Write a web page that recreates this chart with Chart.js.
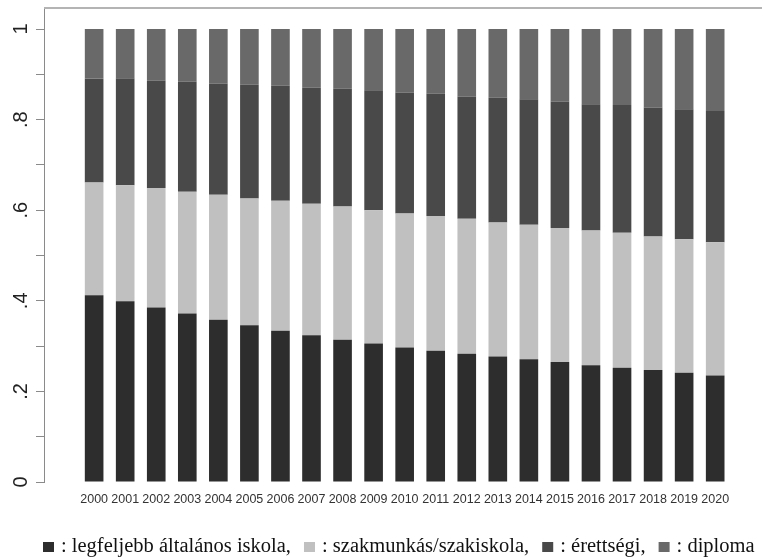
<!DOCTYPE html>
<html>
<head>
<meta charset="utf-8">
<script src="https://cdn.jsdelivr.net/npm/chart.js@4.4.1/dist/chart.umd.min.js"></script>
<style>
  html, body { margin: 0; padding: 0; background: #ffffff; }
  #c { display: block; }
</style>
</head>
<body>
<canvas id="c" width="762" height="557"></canvas>
<script>
// ---- data ----
const years = [2000,2001,2002,2003,2004,2005,2006,2007,2008,2009,2010,2011,2012,2013,2014,2015,2016,2017,2018,2019,2020];
const seriesNames = ['legfeljebb általános iskola', 'szakmunkás/szakiskola', 'érettségi', 'diploma'];
const primary    = [0.412,0.399,0.385,0.372,0.358,0.346,0.334,0.324,0.314,0.306,0.297,0.290,0.283,0.277,0.271,0.265,0.258,0.252,0.247,0.241,0.235];
const vocational = [0.249,0.256,0.264,0.269,0.276,0.280,0.287,0.290,0.294,0.294,0.296,0.297,0.298,0.296,0.297,0.296,0.297,0.298,0.295,0.295,0.294];
const secondary  = [0.230,0.235,0.237,0.243,0.246,0.251,0.254,0.257,0.260,0.265,0.267,0.270,0.270,0.275,0.277,0.279,0.279,0.282,0.285,0.287,0.290];
const tertiary   = [0.109,0.110,0.114,0.116,0.120,0.123,0.125,0.129,0.132,0.135,0.140,0.143,0.149,0.152,0.155,0.160,0.166,0.168,0.173,0.177,0.181];
const yTickValues = [0,0.1,0.2,0.3,0.4,0.5,0.6,0.7,0.8,0.9,1];
const yLabelValues = [0,0.2,0.4,0.6,0.8,1];
const yLabelTexts  = ['0','.2','.4','.6','.8','1'];

const seriesValues = [primary, vocational, secondary, tertiary];
const seriesColors = ['#2d2d2d', '#c0c0c0', '#494949', '#696969'];

const datasets = seriesValues.map((vals, i) => ({
  label: seriesNames[i],
  data: years.map((yr, j) => ({ x: yr, y: vals[j] })),
  backgroundColor: seriesColors[i],
  borderWidth: 0,
  categoryPercentage: 1.0,
  barPercentage: 0.6
}));

const stataDecor = {
  id: 'stataDecor',
  afterDraw(chart) {
    const ctx = chart.ctx;
    const area = chart.chartArea;
    const ys = chart.scales.y;
    ctx.save();
    // top frame line
    ctx.strokeStyle = '#b4b4b4';
    ctx.lineWidth = 2;
    ctx.beginPath();
    ctx.moveTo(area.left, area.top);
    ctx.lineTo(chart.width, area.top);
    ctx.stroke();
    // rotated y labels
    ctx.fillStyle = '#222';
    ctx.font = '20px "Liberation Sans"';
    ctx.textAlign = 'center';
    ctx.textBaseline = 'alphabetic';
    yLabelValues.forEach((v, i) => {
      const py = ys.getPixelForValue(v);
      ctx.save();
      ctx.translate(27, py);
      ctx.rotate(-Math.PI / 2);
      ctx.fillText(yLabelTexts[i], 0, 0);
      ctx.restore();
    });
    // legend
    ctx.font = '20.5px "Liberation Serif"';
    ctx.textAlign = 'left';
    ctx.textBaseline = 'alphabetic';
    let x = 43;
    const base = 552;
    seriesNames.forEach((name, i) => {
      ctx.fillStyle = seriesColors[i];
      ctx.fillRect(x, base - 10, 11, 10);
      x += 11 + 7;
      const txt = ': ' + name + (i < seriesNames.length - 1 ? ',' : '');
      ctx.fillStyle = '#111';
      ctx.fillText(txt, x, base);
      x += ctx.measureText(txt).width + 13;
    });
    ctx.restore();
  }
};

new Chart(document.getElementById('c'), {
  type: 'bar',
  data: { datasets },
  options: {
    responsive: false,
    animation: false,
    devicePixelRatio: 1,
    layout: { padding: { top: 8, right: 0, left: 0, bottom: 0 } },
    plugins: { legend: { display: false }, tooltip: { enabled: false } },
    scales: {
      x: {
        type: 'linear',
        stacked: true,
        min: 1998.936,
        max: 2020.957,
        afterBuildTicks: (s) => { s.ticks = years.map(v => ({ value: v })); },
        afterFit: (s) => { s.height = 75; },
        ticks: {
          callback: (v) => String(v),
          font: { family: 'Liberation Sans', size: 12.5 },
          color: '#333',
          padding: 10,
          maxRotation: 0,
          minRotation: 0,
          autoSkip: false
        },
        grid: { display: false, drawTicks: false },
        border: { display: false }
      },
      y: {
        stacked: true,
        min: 0,
        max: 1.0464,
        afterBuildTicks: (s) => { s.ticks = yTickValues.map(v => ({ value: v })); },
        afterFit: (s) => { s.width = 44; },
        ticks: { display: false },
        grid: { drawOnChartArea: false, drawTicks: true, tickLength: 8, color: '#8a8a8a', lineWidth: 1 },
        border: { display: true, color: '#8a8a8a', width: 1 }
      }
    }
  },
  plugins: [stataDecor]
});
</script>
</body>
</html>
